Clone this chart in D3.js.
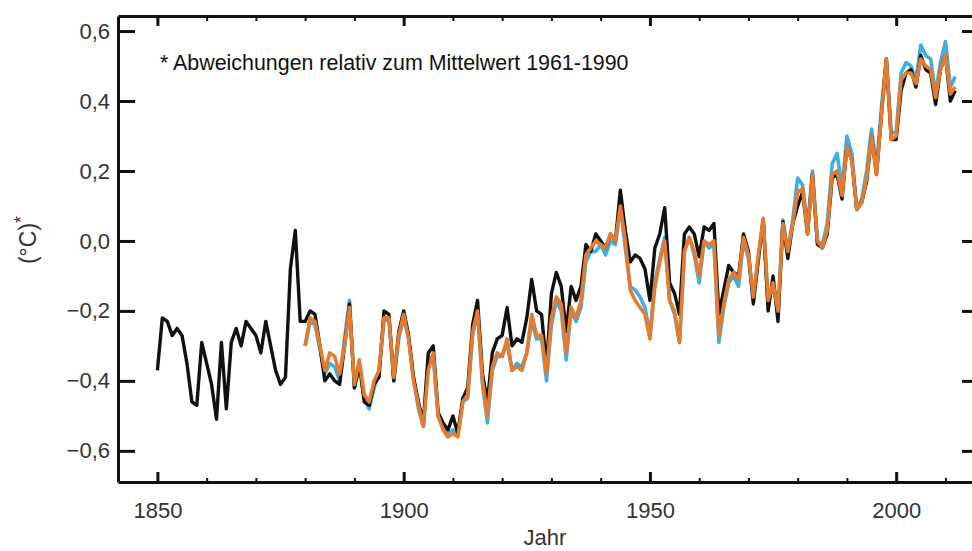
<!DOCTYPE html>
<html><head><meta charset="utf-8">
<script src="https://cdn.jsdelivr.net/npm/d3@7"></script>
<style>
html,body{margin:0;padding:0;background:#fff;}
svg{display:block;font-family:"Liberation Sans",Arial,sans-serif;}
</style></head>
<body><svg id="c" width="972" height="551"></svg>
<script>
// ---- data (temperature anomalies relative to 1961-1990, °C) ----
const startBlack = 1850;
const blackValues = [
-0.37,-0.22,-0.23,-0.27,-0.25,-0.27,-0.35,-0.46,-0.47,-0.29, // 1850-59
-0.35,-0.41,-0.51,-0.29,-0.48,-0.29,-0.25,-0.30,-0.23,-0.25, // 1860-69
-0.27,-0.32,-0.23,-0.30,-0.37,-0.41,-0.39,-0.08,0.03,-0.23,  // 1870-79
-0.23,-0.20,-0.21,-0.30,-0.40,-0.38,-0.40,-0.41,-0.30,-0.18, // 1880-89
-0.42,-0.35,-0.46,-0.47,-0.41,-0.39,-0.20,-0.21,-0.40,-0.26, // 1890-99
-0.20,-0.27,-0.39,-0.46,-0.52,-0.32,-0.30,-0.49,-0.52,-0.54, // 1900-09
-0.50,-0.55,-0.45,-0.42,-0.24,-0.17,-0.38,-0.46,-0.32,-0.28, // 1910-19
-0.27,-0.19,-0.30,-0.28,-0.29,-0.22,-0.11,-0.20,-0.21,-0.36, // 1920-29
-0.15,-0.09,-0.13,-0.26,-0.13,-0.17,-0.13,-0.01,-0.03,0.02,  // 1930-39
0.00,-0.02,0.02,0.00,0.145,0.03,-0.06,-0.04,-0.05,-0.08,     // 1940-49
-0.17,-0.02,0.02,0.095,-0.12,-0.15,-0.21,0.02,0.04,0.02,     // 1950-59
-0.045,0.04,0.03,0.05,-0.21,-0.14,-0.07,-0.09,-0.10,0.02,    // 1960-69
-0.03,-0.18,-0.05,0.06,-0.20,-0.10,-0.23,0.055,-0.05,0.05,   // 1970-79
0.10,0.14,0.02,0.19,-0.01,-0.02,0.02,0.18,0.19,0.12,         // 1980-89
0.27,0.23,0.09,0.11,0.17,0.30,0.19,0.36,0.52,0.29,           // 1990-99
0.29,0.43,0.48,0.49,0.44,0.53,0.49,0.48,0.39,0.49,           // 2000-09
0.53,0.40,0.43                                               // 2010-12
];
const startColor = 1880;
const orangeValues = [
-0.30,-0.22,-0.23,-0.30,-0.37,-0.32,-0.33,-0.38,-0.30,-0.19, // 1880-89
-0.41,-0.34,-0.44,-0.46,-0.40,-0.37,-0.22,-0.22,-0.39,-0.27, // 1890-99
-0.21,-0.28,-0.40,-0.47,-0.53,-0.37,-0.32,-0.50,-0.54,-0.56, // 1900-09
-0.55,-0.56,-0.46,-0.44,-0.26,-0.20,-0.40,-0.50,-0.36,-0.32, // 1910-19
-0.33,-0.28,-0.37,-0.36,-0.37,-0.32,-0.21,-0.27,-0.27,-0.38, // 1920-29
-0.22,-0.16,-0.18,-0.32,-0.19,-0.22,-0.17,-0.04,-0.02,0.00,  // 1930-39
-0.01,-0.02,0.02,0.00,0.10,0.00,-0.14,-0.17,-0.19,-0.21,     // 1940-49
-0.28,-0.13,-0.06,0.00,-0.17,-0.20,-0.29,-0.03,0.01,-0.03,   // 1950-59
-0.10,0.00,-0.01,0.00,-0.27,-0.18,-0.11,-0.09,-0.11,0.01,    // 1960-69
-0.04,-0.16,-0.04,0.065,-0.17,-0.12,-0.20,0.05,-0.03,0.05,   // 1970-79
0.14,0.15,0.02,0.19,0.00,-0.02,0.03,0.19,0.20,0.13,          // 1980-89
0.27,0.23,0.09,0.11,0.18,0.30,0.19,0.36,0.52,0.29,           // 1990-99
0.30,0.46,0.48,0.48,0.45,0.52,0.50,0.49,0.41,0.49,           // 2000-09
0.53,0.42,0.44                                               // 2010-12
];
const blueValues = [
-0.30,-0.23,-0.24,-0.31,-0.38,-0.35,-0.36,-0.40,-0.28,-0.17, // 1880-89
-0.42,-0.36,-0.45,-0.48,-0.42,-0.37,-0.23,-0.22,-0.40,-0.28, // 1890-99
-0.22,-0.28,-0.39,-0.48,-0.53,-0.34,-0.33,-0.50,-0.53,-0.55, // 1900-09
-0.54,-0.55,-0.46,-0.45,-0.27,-0.20,-0.41,-0.52,-0.37,-0.33, // 1910-19
-0.33,-0.29,-0.37,-0.35,-0.36,-0.32,-0.23,-0.28,-0.28,-0.40, // 1920-29
-0.24,-0.17,-0.20,-0.34,-0.20,-0.23,-0.19,-0.06,-0.03,-0.03, // 1930-39
-0.01,-0.04,0.00,-0.01,0.10,-0.02,-0.13,-0.14,-0.16,-0.19,   // 1940-49
-0.27,-0.12,-0.05,0.01,-0.17,-0.21,-0.29,-0.03,0.01,-0.04,   // 1950-59
-0.12,0.00,-0.02,-0.01,-0.29,-0.19,-0.12,-0.10,-0.13,0.00,   // 1960-69
-0.05,-0.17,-0.06,0.06,-0.18,-0.12,-0.21,0.06,-0.03,0.06,    // 1970-79
0.18,0.16,0.04,0.20,0.00,-0.01,0.05,0.22,0.25,0.15,          // 1980-89
0.30,0.25,0.09,0.12,0.20,0.32,0.21,0.38,0.52,0.31,           // 1990-99
0.31,0.48,0.51,0.50,0.46,0.56,0.53,0.52,0.42,0.51,           // 2000-09
0.57,0.44,0.47                                               // 2010-12
];
const yTicks = [-0.6,-0.4,-0.2,0.0,0.2,0.4,0.6];
const xMajorTicks = [1850,1900,1950,2000];
const xMinorTicks = [1850,1860,1870,1880,1890,1900,1910,1920,1930,1940,1950,1960,1970,1980,1990,2000,2010];
const note = "* Abweichungen relativ zum Mittelwert 1961-1990";
const xTitle = "Jahr";
const yTitle = "(°C)";

// ---- layout ----
const L = 118, R = 974, T = 16, B = 482;
const svg = d3.select("#c");
const x = d3.scaleLinear().domain([1842, 2015.8]).range([L, R]);
const y = d3.scaleLinear().domain([-0.689, 0.643]).range([B, T]);

const loc = d3.formatLocale({decimal:",", thousands:".", grouping:[3], currency:["","€"], minus:"\u2212"});
const fmt = loc.format(".1f");

const toPts = (start, vals) => vals.map((v,i)=>({yr:start+i, v}));
const line = d3.line().x(d=>x(d.yr)).y(d=>y(d.v)).curve(d3.curveLinear);

const g = svg.append("g");
g.append("path").datum(toPts(startColor, blueValues)).attr("d", line)
  .attr("fill","none").attr("stroke","#42aee0").attr("stroke-width",3.6).attr("stroke-linejoin","round");
g.append("path").datum(toPts(startBlack, blackValues)).attr("d", line)
  .attr("fill","none").attr("stroke","#111").attr("stroke-width",3.4).attr("stroke-linejoin","round");
g.append("path").datum(toPts(startColor, orangeValues)).attr("d", line)
  .attr("fill","none").attr("stroke","#e57b2e").attr("stroke-width",3.6).attr("stroke-linejoin","round");

// ---- axes ----
function styleAxis(sel, w){
  sel.select(".domain").attr("stroke","#111").attr("stroke-width",3);
  sel.selectAll(".tick line").attr("stroke","#111").attr("stroke-width",w);
  sel.selectAll("text").attr("fill","#333").attr("font-size",22).attr("font-family","'Liberation Sans',Arial,sans-serif");
}
// bottom minor + major
svg.append("g").attr("transform",`translate(0,${B})`)
  .call(d3.axisBottom(x).tickValues(xMinorTicks).tickSize(-4).tickSizeOuter(0).tickFormat(""))
  .call(s=>styleAxis(s,2));
svg.append("g").attr("transform",`translate(0,${B})`)
  .call(d3.axisBottom(x).tickValues(xMajorTicks).tickSize(-10).tickSizeOuter(0).tickPadding(20).tickFormat(d3.format("d")))
  .call(s=>{styleAxis(s,3); s.select(".domain").remove();});
// top
svg.append("g").attr("transform",`translate(0,${T})`)
  .call(d3.axisTop(x).tickValues(xMinorTicks).tickSize(-5).tickSizeOuter(0).tickFormat(""))
  .call(s=>styleAxis(s,2));
svg.append("g").attr("transform",`translate(0,${T})`)
  .call(d3.axisTop(x).tickValues(xMajorTicks).tickSize(-10).tickSizeOuter(0).tickFormat(""))
  .call(s=>{styleAxis(s,3); s.select(".domain").remove();});
// left
svg.append("g").attr("transform",`translate(${L},0)`)
  .call(d3.axisLeft(y).tickValues(yTicks).tickSize(-17).tickSizeOuter(0).tickPadding(8).tickFormat(fmt))
  .call(s=>styleAxis(s,3));
// right
svg.append("g").attr("transform",`translate(${R},0)`)
  .call(d3.axisRight(y).tickValues(yTicks).tickSize(-12).tickSizeOuter(0).tickFormat(""))
  .call(s=>styleAxis(s,3));

// ---- texts ----
svg.append("text").attr("x",160).attr("y",70).attr("font-size",21.4).attr("fill","#111").text(note);
svg.append("text").attr("x",545).attr("y",545).attr("text-anchor","middle").attr("font-size",22).attr("fill","#333").text(xTitle);
const yt = svg.append("text").attr("transform","translate(36,240) rotate(-90)")
  .attr("text-anchor","middle").attr("font-size",23).attr("fill","#333");
yt.append("tspan").text(yTitle);
yt.append("tspan").attr("dy",-9).attr("font-size",18).text("*");
</script></body></html>
